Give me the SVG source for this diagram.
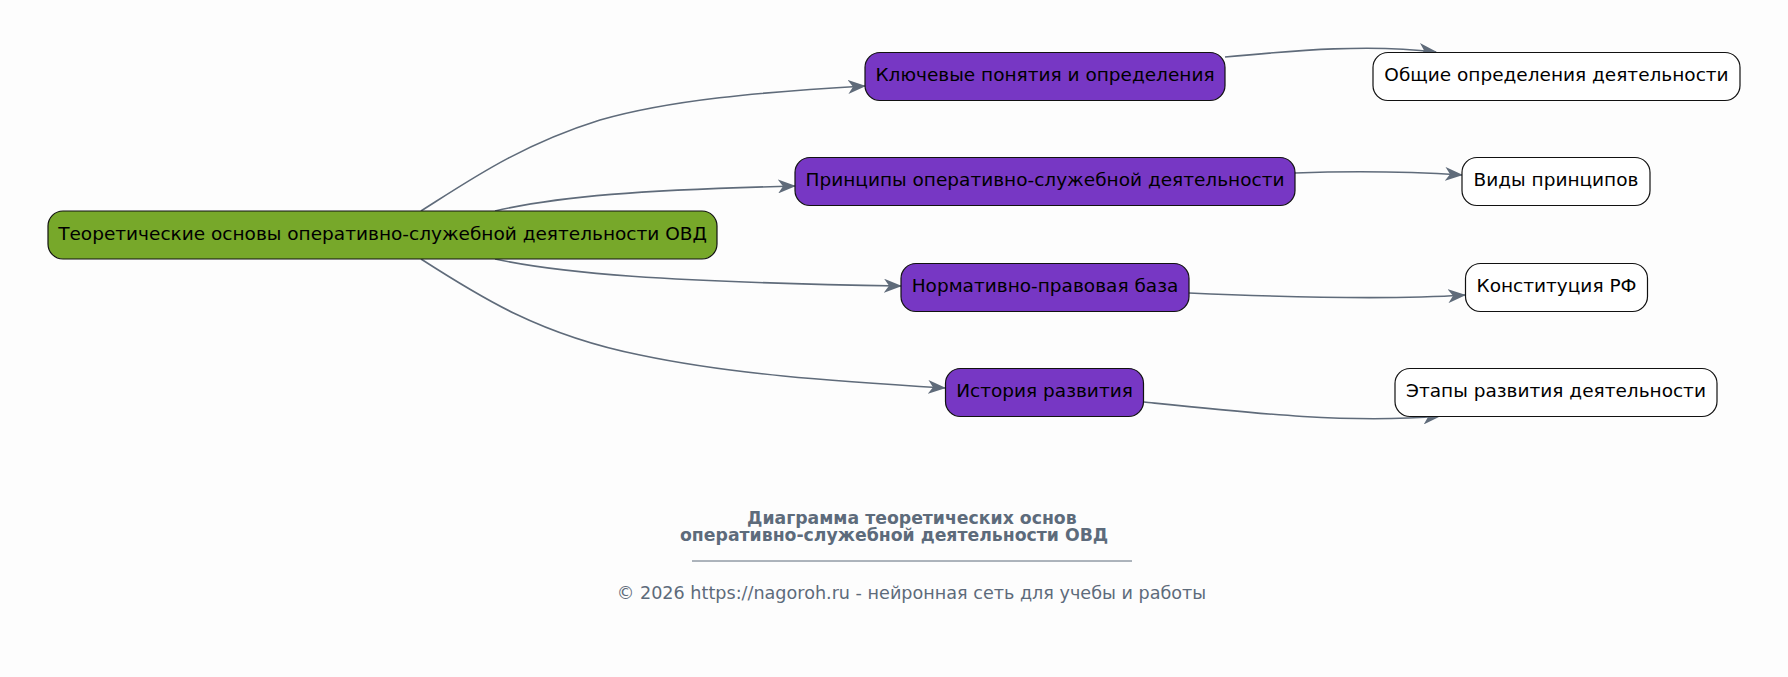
<svg xmlns="http://www.w3.org/2000/svg" width="1788" height="677" viewBox="0 0 1788 677">
<defs>
<style>
.node rect{stroke:#111;stroke-width:1.2}
.root rect{fill:#77a82a}
.mid rect{fill:#7737c4}
.leaf rect{fill:#ffffff}
.node text{font-family:"DejaVu Sans",sans-serif;font-size:18.5px;fill:#000;text-anchor:middle;dominant-baseline:central}
.edge{fill:none;stroke:#5f6b7a;stroke-width:1.6;marker-end:url(#arr)}
.title{font-family:"DejaVu Sans",sans-serif;font-size:17.3px;font-weight:bold;fill:#5d6b7b}
.copy{font-family:"DejaVu Sans",sans-serif;font-size:17.6px;fill:#5d6b7b;text-anchor:middle}
</style>
<marker id="arr" viewBox="0 0 18 14" refX="17" refY="7" markerWidth="18" markerHeight="14" markerUnits="userSpaceOnUse" orient="auto">
<path d="M0,0 L18,7 L0,14 L5,7 z" fill="#5f6b7a"/>
</marker>
</defs>
<rect width="1788" height="677" fill="#fdfdfd"/>
<g id="connectors">
<path class="edge" d="M421,211 C470,180 520,145 600,120 C670,100 760,92 865,86"/>
<path class="edge" d="M495,211 C560,196 640,190 795,186"/>
<path class="edge" d="M495,259 C560,273 660,282 901,286"/>
<path class="edge" d="M421,259 C480,297 540,335 640,355 C730,374 830,381 945,388"/>
<path class="edge" d="M1225,57 C1300,50 1370,44 1436,52"/>
<path class="edge" d="M1295,173 C1350,171 1400,171 1462,175"/>
<path class="edge" d="M1189,293 C1280,297 1390,300 1465,295"/>
<path class="edge" d="M1144,402 C1250,413 1350,424 1440,416"/>
</g>
<g id="root" class="node root"><rect x="48" y="211" width="669" height="48" rx="15"/><text x="382.5" y="233">Теоретические основы оперативно-служебной деятельности ОВД</text></g>
<g id="n1" class="node mid"><rect x="865" y="52.5" width="360" height="48" rx="15"/><text x="1045" y="74.5">Ключевые понятия и определения</text></g>
<g id="n2" class="node mid"><rect x="795" y="157.5" width="500" height="48" rx="15"/><text x="1045" y="179.5">Принципы оперативно-служебной деятельности</text></g>
<g id="n3" class="node mid"><rect x="901" y="263.5" width="288" height="48" rx="15"/><text x="1045" y="285.5">Нормативно-правовая база</text></g>
<g id="n4" class="node mid"><rect x="945.5" y="368.5" width="198" height="48" rx="15"/><text x="1044.5" y="390.5">История развития</text></g>
<g id="l1" class="node leaf"><rect x="1373" y="52.5" width="367" height="48" rx="15"/><text x="1556.5" y="74.5">Общие определения деятельности</text></g>
<g id="l2" class="node leaf"><rect x="1462" y="157.5" width="188" height="48" rx="15"/><text x="1556" y="179.5">Виды принципов</text></g>
<g id="l3" class="node leaf"><rect x="1465.5" y="263.5" width="182" height="48" rx="15"/><text x="1556.5" y="285.5">Конституция РФ</text></g>
<g id="l4" class="node leaf"><rect x="1395" y="368.5" width="322" height="48" rx="15"/><text x="1556" y="390.5">Этапы развития деятельности</text></g>
<g id="caption">
<text class="title" x="747" y="523.5">Диаграмма теоретических основ</text>
<text class="title" x="680" y="540.5">оперативно-служебной деятельности ОВД</text>
<line x1="692" y1="561" x2="1132" y2="561" stroke="#5d6b7b" stroke-width="1"/>
<text class="copy" x="911.5" y="599">© 2026 https://nagoroh.ru - нейронная сеть для учебы и работы</text>
</g>
</svg>
